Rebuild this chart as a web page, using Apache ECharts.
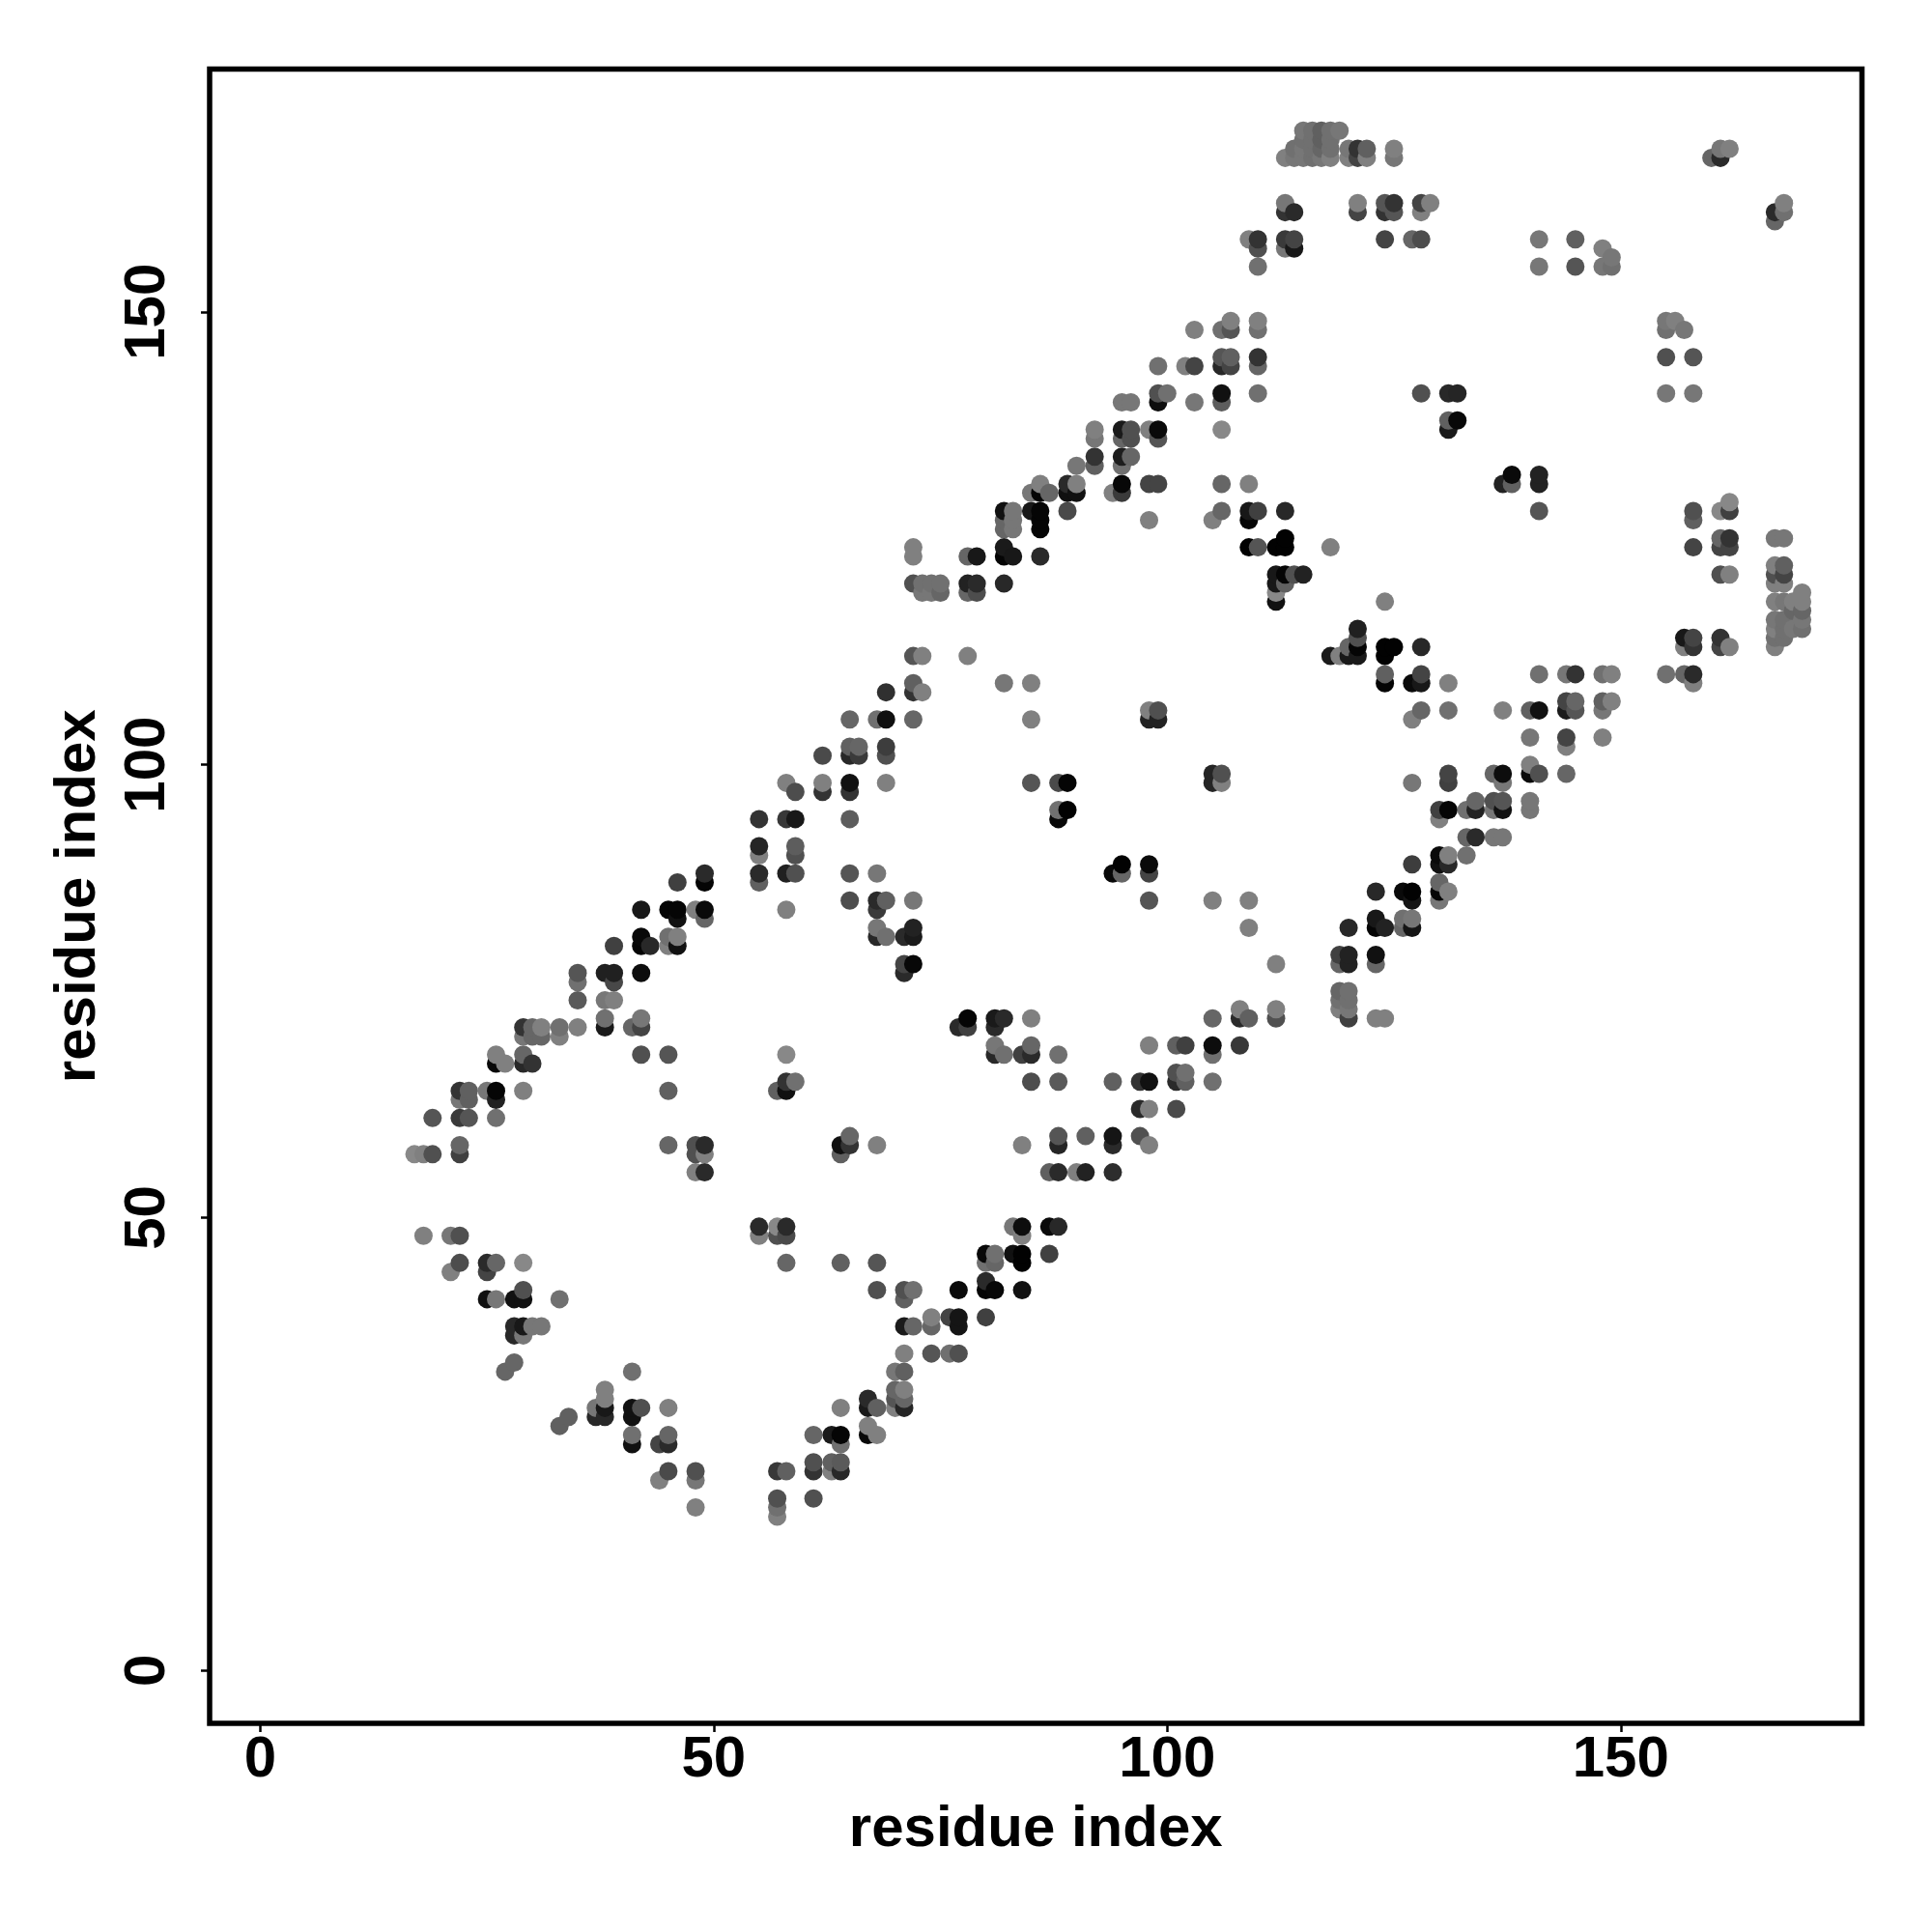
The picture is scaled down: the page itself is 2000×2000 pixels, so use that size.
<!DOCTYPE html>
<html>
<head>
<meta charset="utf-8">
<style>html,body{margin:0;padding:0;background:#fff}#c{width:2000px;height:2000px}</style>
<script src="https://cdn.jsdelivr.net/npm/echarts@6/dist/echarts.min.js"></script>
</head>
<body>
<div id="c"></div>
<script>
// each contact: [residue x, residue y, level (0 = strongest contact, larger = weaker)]
const tickValues = [0, 50, 100, 150];
const axisTitle = 'residue index';
const contactsY155to170 = [
[115,170,0x77],[116,170,0x70],[117,170,0x60],[118,170,0x70],[119,170,0x77],
[115,169,0x70],[116,169,0x70],[117,169,0x60],[118,169,0x70],
[114,168,0x70],[115,168,0x77],[116,168,0x70],[117,168,0x66],[118,168,0x70],[120,168,0x77],[121,168,0x33],[122,168,0x60],[125,168,0x80],[161,168,0x77],[162,168,0x80],
[113,167,0x80],[114,167,0x77],[115,167,0x77],[116,167,0x70],[117,167,0x77],[118,167,0x80],[120,167,0x80],[121,167,0x44],[122,167,0x80],[125,167,0x77],[160,167,0x66],[161,167,0x2a],
[113,162,0x77],[121,162,0x80],[124,162,0x55],[125,162,0x33],[128,162,0x44],[129,162,0x80],[168,162,0x80],
[113,161,0x33],[114,161,0x2a],[121,161,0x44],[124,161,0x33],[125,161,0x55],[128,161,0x80],[167,161,0x2a],[168,161,0x70],
[167,160,0x66],
[109,158,0x80],[110,158,0x33],[113,158,0x3a],[114,158,0x44],[124,158,0x44],[127,158,0x66],[128,158,0x4d],[141,158,0x77],[145,158,0x60],
[110,157,0x50],[113,157,0x77],[114,157,0x18],[148,157,0x80],
[149,156,0x77],
[110,155,0x70],[141,155,0x77],[145,155,0x55],[148,155,0x77],[149,155,0x70]
];
const contactsY130to149 = [
[107,149,0x80],[110,149,0x80],[155,149,0x77],[156,149,0x80],
[103,148,0x80],[106,148,0x70],[107,148,0x55],[110,148,0x70],[155,148,0x70],[157,148,0x77],
[106,145,0x55],[107,145,0x60],[110,145,0x33],[155,145,0x50],[158,145,0x55],
[99,144,0x70],[102,144,0x80],[103,144,0x44],[106,144,0x28],[107,144,0x44],[110,144,0x66],
[99,141,0x50],[100,141,0x70],[106,141,0x11],[110,141,0x70],[128,141,0x50],[131,141,0x28],[132,141,0x25],[155,141,0x77],[158,141,0x77],
[95,140,0x77],[96,140,0x77],[99,140,0x0d],[103,140,0x77],[106,140,0x5d],
[131,138,0x60],[132,138,0x08],
[92,137,0x80],[95,137,0x1a],[96,137,0x50],[98,137,0x80],[99,137,0x0a],[106,137,0x88],[131,137,0x1a],
[92,136,0x77],[95,136,0x66],[96,136,0x50],[99,136,0x55],
[92,134,0x33],[95,134,0x1d],[96,134,0x66],
[90,133,0x77],[92,133,0x60],[95,133,0x70],
[138,132,0x0a],[141,132,0x22],
[86,131,0x80],[89,131,0x2a],[90,131,0x80],[95,131,0x08],[98,131,0x44],[99,131,0x44],[106,131,0x66],[109,131,0x80],[137,131,0x22],[138,131,0x60],[141,131,0x22],
[85,130,0x77],[86,130,0x05],[87,130,0x66],[89,130,0x10],[90,130,0x11],[94,130,0x80],[95,130,0x3a]
];
const contactsY112to129 = [
[162,129,0x88],
[82,128,0x11],[83,128,0x77],[85,128,0x18],[86,128,0x05],[89,128,0x4a],[106,128,0x66],[109,128,0x18],[110,128,0x40],[113,128,0x28],[141,128,0x55],[158,128,0x50],[161,128,0x88],[162,128,0x40],
[82,127,0x66],[83,127,0x77],[86,127,0x05],[98,127,0x80],[105,127,0x80],[109,127,0x05],[158,127,0x60],
[82,126,0x66],[83,126,0x77],[86,126,0x05],
[113,125,0x02],[161,125,0x66],[162,125,0x33],[167,125,0x77],[168,125,0x77],
[72,124,0x80],[82,124,0x1a],[109,124,0x02],[110,124,0x55],[112,124,0x02],[113,124,0x02],[118,124,0x80],[158,124,0x44],[161,124,0x44],[162,124,0x44],
[72,123,0x80],[78,123,0x66],[79,123,0x18],[82,123,0x05],[83,123,0x18],[86,123,0x2a],
[167,122,0x80],[168,122,0x60],
[112,121,0x18],[113,121,0x05],[114,121,0x50],[115,121,0x22],[161,121,0x50],[162,121,0x80],[167,121,0x50],[168,121,0x44],
[72,120,0x50],[73,120,0x70],[74,120,0x70],[75,120,0x70],[78,120,0x22],[79,120,0x2a],[82,120,0x28],[112,120,0x18],[113,120,0x60],[167,120,0x80],[168,120,0x80],
[73,119,0x77],[74,119,0x77],[75,119,0x66],[78,119,0x66],[79,119,0x4d],[112,119,0x88],[170,119,0x80],
[112,118,0x11],[124,118,0x80],[167,118,0x80],[168,118,0x77],[169,118,0x80],[170,118,0x80],
[169,117,0x66],[170,117,0x66],
[167,116,0x77],[168,116,0x70],[170,116,0x77],
[121,115,0x20],[167,115,0x80],[168,115,0x70],[169,115,0x77],[170,115,0x70],
[121,114,0x50],[157,114,0x18],[158,114,0x44],[161,114,0x33],[167,114,0x70],[168,114,0x70],
[120,113,0x66],[121,113,0x05],[124,113,0x02],[125,113,0x02],[128,113,0x28],[157,113,0x80],[158,113,0x33],[161,113,0x44],[162,113,0x80],[167,113,0x80],
[72,112,0x55],[73,112,0x80],[78,112,0x80],[118,112,0x1a],[119,112,0x80],[120,112,0x18],[121,112,0x1a],[124,112,0x02]
];
const contactsY94to110 = [
[124,110,0x60],[128,110,0x44],[141,110,0x70],[144,110,0x77],[145,110,0x33],[148,110,0x70],[149,110,0x80],[155,110,0x70],[157,110,0x66],[158,110,0x2a],
[72,109,0x60],[82,109,0x77],[85,109,0x80],[124,109,0x05],[127,109,0x0a],[128,109,0x18],[131,109,0x80],[158,109,0x80],
[69,108,0x30],[72,108,0x33],[73,108,0x80],
[144,107,0x44],[145,107,0x66],[148,107,0x60],[149,107,0x80],
[98,106,0x80],[99,106,0x50],[128,106,0x66],[131,106,0x70],[137,106,0x80],[140,106,0x60],[141,106,0x11],[144,106,0x1a],[145,106,0x55],[148,106,0x77],
[65,105,0x66],[68,105,0x70],[69,105,0x10],[72,105,0x66],[85,105,0x80],[98,105,0x22],[99,105,0x22],[127,105,0x80],
[140,103,0x77],[144,103,0x44],[148,103,0x80],
[65,102,0x60],[66,102,0x66],[69,102,0x3d],[144,102,0x80],
[62,101,0x4a],[65,101,0x28],[66,101,0x3a],[69,101,0x50],
[140,100,0x80],
[105,99,0x25],[106,99,0x50],[131,99,0x44],[136,99,0x66],[137,99,0x0d],[140,99,0x0a],[141,99,0x50],[144,99,0x66],
[58,98,0x80],[62,98,0x80],[65,98,0x11],[69,98,0x80],[85,98,0x55],[88,98,0x4a],[89,98,0x05],[105,98,0x25],[106,98,0x80],[127,98,0x77],[131,98,0x40],[137,98,0x77],
[59,97,0x4d],[62,97,0x33],[65,97,0x33],
[134,96,0x66],[136,96,0x50],[137,96,0x55],[140,96,0x77],
[88,95,0x70],[89,95,0x02],[130,95,0x40],[131,95,0x05],[133,95,0x70],[134,95,0x22],[136,95,0x77],[137,95,0x11],[140,95,0x77],
[55,94,0x33],[58,94,0x38],[59,94,0x18],[65,94,0x5d],[88,94,0x08],[130,94,0x80]
];
const contactsY76to92 = [
[133,92,0x66],[134,92,0x2a],[136,92,0x77],[137,92,0x77],
[55,91,0x25],[59,91,0x5d],
[55,90,0x80],[59,90,0x50],[130,90,0x0a],[131,90,0x80],[133,90,0x70],
[95,89,0x02],[98,89,0x0a],[127,89,0x3d],[130,89,0x11],[131,89,0x28],
[49,88,0x2a],[55,88,0x2a],[58,88,0x20],[59,88,0x50],[65,88,0x55],[68,88,0x77],[94,88,0x08],[95,88,0x66],[98,88,0x44],
[46,87,0x40],[49,87,0x05],[55,87,0x60],[130,87,0x66],
[123,86,0x28],[126,86,0x0a],[127,86,0x02],[130,86,0x05],[131,86,0x80],
[65,85,0x4d],[68,85,0x2a],[69,85,0x60],[72,85,0x77],[98,85,0x55],[105,85,0x80],[109,85,0x80],[127,85,0x15],[130,85,0x77],
[42,84,0x18],[45,84,0x05],[46,84,0x05],[48,84,0x80],[49,84,0x0a],[58,84,0x80],[68,84,0x3a],
[46,83,0x11],[49,83,0x66],[123,83,0x18],[126,83,0x70],[127,83,0x77],
[68,82,0x77],[72,82,0x22],[109,82,0x80],[120,82,0x28],[123,82,0x05],[124,82,0x22],[126,82,0x66],[127,82,0x15],
[42,81,0x08],[45,81,0x70],[46,81,0x80],[68,81,0x28],[69,81,0x70],[71,81,0x2a],[72,81,0x1a],
[39,80,0x40],[42,80,0x05],[43,80,0x28],[45,80,0x80],[46,80,0x11],
[119,79,0x40],[120,79,0x22],[123,79,0x11],
[71,78,0x44],[72,78,0x08],[112,78,0x80],[119,78,0x66],[120,78,0x22],[123,78,0x66],
[35,77,0x55],[38,77,0x20],[39,77,0x20],[42,77,0x0d],[71,77,0x2a],
[35,76,0x70],[39,76,0x48]
];
const contactsY57to75 = [
[119,75,0x66],[120,75,0x70],
[35,74,0x5a],[38,74,0x77],[39,74,0x80],[119,74,0x70],[120,74,0x70],
[108,73,0x80],[112,73,0x80],[119,73,0x80],[120,73,0x77],
[38,72,0x70],[42,72,0x77],[78,72,0x05],[81,72,0x1a],[82,72,0x2a],[85,72,0x80],[105,72,0x66],[108,72,0x2a],[109,72,0x60],[112,72,0x50],[120,72,0x40],[123,72,0x80],[124,72,0x80],
[29,71,0x33],[30,71,0x66],[31,71,0x80],[33,71,0x70],[35,71,0x80],[38,71,0x1a],[41,71,0x66],[42,71,0x44],[77,71,0x2a],[78,71,0x40],[81,71,0x2a],
[29,70,0x77],[30,70,0x66],[31,70,0x66],[33,70,0x80],
[81,69,0x77],[85,69,0x66],[98,69,0x80],[101,69,0x60],[102,69,0x40],[105,69,0x0d],[108,69,0x38],
[26,68,0x80],[29,68,0x66],[42,68,0x50],[45,68,0x55],[58,68,0x88],[81,68,0x28],[82,68,0x70],[84,68,0x40],[85,68,0x2a],[88,68,0x70],[105,68,0x70],
[26,67,0x08],[27,67,0x80],[29,67,0x28],[30,67,0x33],
[101,66,0x50],[102,66,0x70],
[58,65,0x33],[59,65,0x70],[85,65,0x4d],[88,65,0x5a],[94,65,0x60],[97,65,0x33],[98,65,0x11],[101,65,0x2a],[102,65,0x60],[105,65,0x70],
[22,64,0x33],[23,64,0x60],[25,64,0x77],[26,64,0x05],[29,64,0x80],[45,64,0x60],[57,64,0x60],[58,64,0x11],
[22,63,0x77],[23,63,0x60],[26,63,0x22],
[97,62,0x2a],[98,62,0x80],[101,62,0x4a],
[19,61,0x55],[22,61,0x3a],[23,61,0x55],[26,61,0x70],
[65,59,0x66],[88,59,0x55],[91,59,0x60],[94,59,0x15],[97,59,0x50],
[22,58,0x66],[45,58,0x66],[48,58,0x50],[49,58,0x2a],[64,58,0x11],[65,58,0x33],[68,58,0x80],[84,58,0x80],[88,58,0x25],[94,58,0x2a],[98,58,0x80],
[17,57,0x88],[18,57,0x80],[19,57,0x50],[22,57,0x40],[48,57,0x50],[49,57,0x80],[64,57,0x60]
];
const contactsY35to55 = [
[48,55,0x80],[49,55,0x2a],[87,55,0x60],[88,55,0x2a],[90,55,0x80],[91,55,0x22],[94,55,0x2d],
[55,49,0x2a],[57,49,0x88],[58,49,0x2a],[83,49,0x77],[84,49,0x0d],[87,49,0x0a],[88,49,0x28],
[18,48,0x80],[21,48,0x77],[22,48,0x50],[55,48,0x80],[57,48,0x50],[58,48,0x4a],[84,48,0x80],
[80,46,0x08],[81,46,0x70],[83,46,0x11],[84,46,0x02],[87,46,0x40],
[22,45,0x4d],[25,45,0x2a],[26,45,0x66],[29,45,0x88],[58,45,0x66],[64,45,0x60],[68,45,0x55],[80,45,0x70],[81,45,0x66],[84,45,0x02],
[21,44,0x80],[25,44,0x44],
[80,43,0x2a],
[29,42,0x50],[68,42,0x50],[71,42,0x50],[72,42,0x70],[77,42,0x0a],[80,42,0x05],[81,42,0x08],[84,42,0x11],
[25,41,0x11],[26,41,0x77],[28,41,0x11],[29,41,0x11],[33,41,0x70],[71,41,0x60],
[74,39,0x80],[76,39,0x44],[77,39,0x15],[80,39,0x40],
[28,38,0x28],[29,38,0x18],[30,38,0x77],[31,38,0x77],[71,38,0x1a],[72,38,0x66],[74,38,0x66],[77,38,0x15],
[28,37,0x28],[29,37,0x77],
[71,35,0x80],[74,35,0x55],[76,35,0x70],[77,35,0x50]
];
const contactsY17to34 = [
[28,34,0x66],
[27,33,0x66],[41,33,0x70],[70,33,0x77],[71,33,0x60],
[38,31,0x80],[70,31,0x66],[71,31,0x80],
[38,30,0x80],[67,30,0x2a],[70,30,0x55],[71,30,0x66],
[37,29,0x77],[38,29,0x18],[41,29,0x11],[42,29,0x50],[45,29,0x80],[64,29,0x80],[67,29,0x1a],[68,29,0x60],[70,29,0x80],[71,29,0x25],
[34,28,0x60],[37,28,0x28],[38,28,0x28],[41,28,0x11],
[33,27,0x60],[67,27,0x80],
[41,26,0x70],[45,26,0x66],[61,26,0x66],[63,26,0x1a],[64,26,0x05],[67,26,0x08],[68,26,0x80],
[41,25,0x11],[44,25,0x44],[45,25,0x2a],[64,25,0x70],
[61,23,0x50],[63,23,0x60],[64,23,0x5a],
[45,22,0x4a],[48,22,0x50],[57,22,0x38],[58,22,0x60],[61,22,0x33],[63,22,0x80],[64,22,0x28],
[44,21,0x80],[48,21,0x77],
[57,19,0x50],[61,19,0x50],
[48,18,0x80],[57,18,0x70],
[57,17,0x80]
];

const allContacts = [].concat(contactsY155to170, contactsY130to149, contactsY112to129, contactsY94to110,
  contactsY76to92, contactsY57to75, contactsY35to55, contactsY17to34)
  .sort((a, b) => a[0] - b[0] || a[1] - b[1]);

const chart = echarts.init(document.getElementById('c'), null, {renderer: 'canvas'});
const fontFamily = '"Liberation Sans", Arial, sans-serif';
function axis(rot, margin, gap) {
  return {
    type: 'value',
    splitLine: {show: false},
    axisLine: {show: false, onZero: false},
    axisTick: {show: true, length: 9, lineStyle: {color: '#000', width: 2.5}, customValues: tickValues},
    axisLabel: {show: true, rotate: rot, margin: margin, color: '#000', fontFamily, fontWeight: 'bold', fontSize: 60, customValues: tickValues, hideOverlap: false, showMinLabel: true, showMaxLabel: true},
    name: axisTitle,
    nameLocation: 'middle',
    nameGap: gap,
    nameTextStyle: {color: '#000', fontFamily, fontWeight: 'bold', fontSize: 60}
  };
}
chart.setOption({
  animation: false,
  backgroundColor: '#fff',
  grid: {left: 217, top: 71.5, width: 1710.5, height: 1712.5, show: true, borderColor: '#000', borderWidth: 5.5, backgroundColor: 'transparent', containLabel: false},
  xAxis: Object.assign(axis(0, 8, 80), {min: -5.58, max: 176.6}),
  yAxis: Object.assign(axis(90, 34, 106), {min: -5.83, max: 176.8}),
  series: [{
    type: 'scatter',
    symbol: 'circle',
    symbolSize: 19,
    silent: true,
    clip: false,
    large: false,
    data: allContacts,
    encode: {x: 0, y: 1},
    itemStyle: {opacity: 1, color: p => { const v = p.data[2]; return 'rgb(' + v + ',' + v + ',' + v + ')'; }}
  }]
});
</script>
</body>
</html>
